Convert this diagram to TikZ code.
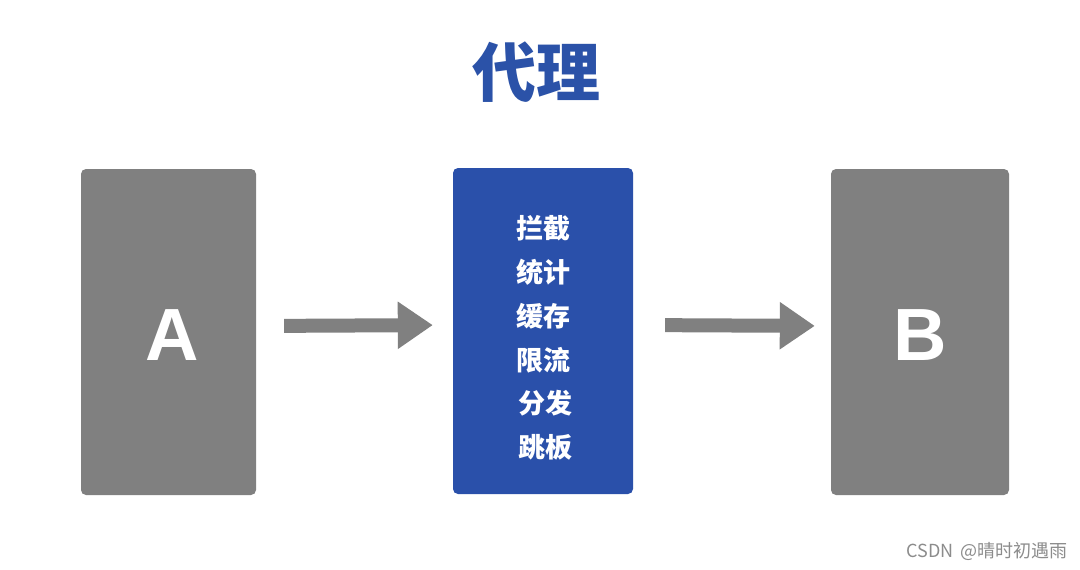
\documentclass[tikz,border=0pt]{standalone}
\usepackage{fontspec}
\setmainfont{Liberation Sans}
\newfontfamily\cjk{Noto Sans CJK SC}
\usetikzlibrary{arrows.meta}
\definecolor{boxgray}{HTML}{808080}
\definecolor{boxblue}{HTML}{2A50AA}
\definecolor{titleblue}{HTML}{2B52A8}
\definecolor{wmgray}{HTML}{8C8C8C}
\tikzset{
  graybox/.style={fill=boxgray, draw=none, rounded corners=5pt, minimum width=175pt, minimum height=326pt, inner sep=0pt},
  bluebox/.style={fill=boxblue, draw=none, rounded corners=5pt, minimum width=180pt, minimum height=326pt, inner sep=0pt},
  bigletter/.style={text=white, font=\fontsize{74}{80}\selectfont\bfseries},
  fatarrow/.style={draw=boxgray, line width=14pt, -{Triangle[length=35pt,width=45pt]}},
}
\begin{document}
\begin{tikzpicture}[x=1pt,y=-1pt]
\useasboundingbox (0,0) rectangle (1080,570);
\fill[white] (0,0) rectangle (1080,570);
\node[text=titleblue, font=\cjk\bfseries\fontsize{64}{70}\selectfont] (title) at (536,72) {代理};
\node[graybox] (A) at (168.5,332) {};
\node[bigletter] (Al) at (172,335) {A};
\node[bluebox] (M) at (543,331) {};
\node[text=white, align=center, font=\cjk\bfseries\fontsize{27}{43.8}\selectfont] (Mt) at (543,338) {拦截\\统计\\缓存\\限流\\\,分发\\\,跳板};
\node[graybox, minimum width=178pt] (B) at (920,332) {};
\node[bigletter] (Bl) at (920,335) {B};
\draw[fatarrow, shorten <=28pt, shorten >=20pt] ([yshift=6pt]A.east) -- ([yshift=6pt]M.west);
\draw[fatarrow, shorten <=32pt, shorten >=16pt] ([yshift=6pt]M.east) -- ([yshift=6pt]B.west);
\node[text=wmgray, font=\cjk\fontsize{18}{20}\selectfont, anchor=east, inner sep=0pt] (wm) at (1068,551) {CSDN\hspace{0.4em}@晴时初遇雨};
\end{tikzpicture}
\end{document}
